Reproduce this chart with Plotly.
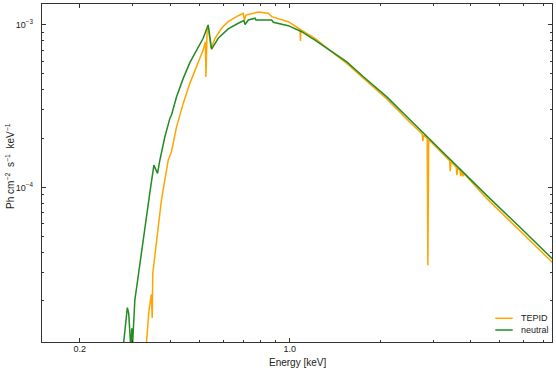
import math
import plotly.graph_objects as go

# ---------------- data ----------------
series_names = ["TEPID", "neutral"]
series_colors = ["#FFA500", "#228B22"]

tepid_energy = [0.330, 0.340, 0.346, 0.3485, 0.350, 0.360, 0.374, 0.394, 0.404, 0.420,
                0.442, 0.465, 0.490, 0.515, 0.524, 0.526, 0.531, 0.536, 0.547, 0.564,
                0.593, 0.624, 0.674, 0.700, 0.707, 0.715, 0.728, 0.786, 0.849, 0.871,
                0.989, 1.082, 1.086, 1.089, 1.214, 1.311, 1.549, 1.759, 2.105, 2.518,
                2.761, 2.776, 2.793, 2.869, 2.884, 2.902, 3.409, 3.422, 3.443, 3.584,
                3.603, 3.625, 3.695, 3.710, 3.738, 3.781, 3.804, 4.536, 5.856, 7.659]
tepid_flux = [8.63e-6, 1.75e-5, 2.20e-5, 1.57e-5, 2.96e-5, 4.73e-5, 8.35e-5, 1.47e-4, 1.66e-4, 2.36e-4,
              3.29e-4, 4.37e-4, 5.53e-4, 7.01e-4, 7.86e-4, 4.78e-4, 9.32e-4, 9.65e-4, 7.17e-4, 8.28e-4,
              9.54e-4, 1.048e-3, 1.14e-3, 1.18e-3, 1.073e-3, 1.15e-3, 1.16e-3, 1.20e-3, 1.18e-3, 1.125e-3,
              1.048e-3, 9.41e-4, 7.97e-4, 9.35e-4, 8.26e-4, 7.35e-4, 5.79e-4, 4.68e-4, 3.50e-4, 2.51e-4,
              2.13e-4, 1.93e-4, 2.10e-4, 2.00e-4, 3.32e-5, 1.97e-4, 1.46e-4, 1.26e-4, 1.44e-4, 1.33e-4,
              1.19e-4, 1.31e-4, 1.27e-4, 1.17e-4, 1.25e-4, 1.17e-4, 1.22e-4, 8.53e-5, 5.42e-5, 3.32e-5]

neutral_energy = [0.276, 0.288, 0.291, 0.296, 0.298, 0.2997, 0.305, 0.317, 0.329, 0.342,
                  0.353, 0.363, 0.3695, 0.384, 0.399, 0.404, 0.420, 0.442, 0.465, 0.490,
                  0.515, 0.535, 0.5495, 0.578, 0.624, 0.674, 0.704, 0.710, 0.728, 0.766,
                  0.772, 0.871, 0.882, 0.989, 1.096, 1.214, 1.311, 1.549, 1.759, 2.105,
                  2.518, 2.936, 3.603, 4.536, 5.856, 7.659]
neutral_flux = [8.63e-6, 1.82e-5, 1.68e-5, 9.94e-6, 1.36e-5, 1.07e-5, 2.02e-5, 3.42e-5, 5.72e-5, 9.18e-5,
                1.372e-4, 1.22e-4, 1.47e-4, 2.05e-4, 2.66e-4, 2.79e-4, 3.61e-4, 4.69e-4, 5.86e-4, 7.01e-4,
                8.28e-4, 1.0e-3, 7.11e-4, 8.28e-4, 9.45e-4, 1.024e-3, 1.063e-3, 1.007e-3, 1.073e-3, 1.10e-3,
                1.073e-3, 1.073e-3, 1.039e-3, 9.90e-4, 9.09e-4, 8.08e-4, 7.35e-4, 5.92e-4, 4.80e-4, 3.61e-4,
                2.60e-4, 1.96e-4, 1.34e-4, 8.90e-5, 5.67e-5, 3.49e-5]

x_tick_values = [0.2, 1.0]
x_tick_labels = ["0.2", "1.0"]
x_minor_values = [0.3, 0.4, 0.5, 0.6, 0.7, 0.8, 0.9, 2, 3, 4, 5, 6, 7]
y_tick_values = [1e-4, 1e-3]
y_tick_labels = ["10<sup>\u22124</sup>", "10<sup>\u22123</sup>"]
y_minor_values = [2e-5, 3e-5, 4e-5, 5e-5, 6e-5, 7e-5, 8e-5, 9e-5,
                  2e-4, 3e-4, 4e-4, 5e-4, 6e-4, 7e-4, 8e-4, 9e-4]
x_limits = [0.1497, 7.47]
y_limits = [1.118e-5, 1.346e-3]

x_title = "Energy [keV]"
y_title = "Ph cm<sup>\u22122</sup>  s<sup>\u22121</sup>  keV<sup>\u22121</sup>"

# ---------------- figure ----------------
W, H = 556, 371
ML, MR, MT, MB = 42, 4, 4, 29
FONT = "Liberation Sans, Arial, Helvetica, sans-serif"
AXC = "#333333"

fig = go.Figure()
for name, color, ex, fy in [(series_names[0], series_colors[0], tepid_energy, tepid_flux),
                            (series_names[1], series_colors[1], neutral_energy, neutral_flux)]:
    fig.add_trace(go.Scatter(x=ex, y=fy, mode="lines", name=name,
                             line=dict(color=color, width=1.5), showlegend=False))

common = dict(type="log", showgrid=False, zeroline=False, showline=True,
              linecolor=AXC, linewidth=1.2, mirror="allticks",
              ticks="inside", ticklen=4, tickwidth=1, tickcolor=AXC,
              tickmode="array", tickfont=dict(family=FONT, size=9, color="#222"))

fig.update_xaxes(**common, range=[math.log10(x_limits[0]), math.log10(x_limits[1])],
                 tickvals=x_tick_values, ticktext=x_tick_labels,
                 minor=dict(tickmode="array", tickvals=x_minor_values, ticks="inside",
                            ticklen=2, tickwidth=1, tickcolor=AXC),
                 ticklabelstandoff=-2)
fig.update_yaxes(**common, range=[math.log10(y_limits[0]), math.log10(y_limits[1])],
                 tickvals=y_tick_values, ticktext=y_tick_labels,
                 minor=dict(tickmode="array", tickvals=y_minor_values, ticks="inside",
                            ticklen=2, tickwidth=1, tickcolor=AXC),
                 ticklabelstandoff=6)

pw = W - ML - MR
ph = H - MT - MB
def px_x(p):
    return (p - ML) / pw
def px_y(p):
    return (H - MB - p) / ph

annotations = [
    dict(text=x_title, x=0.5, y=px_y(362), xref="paper", yref="paper",
         showarrow=False, xanchor="center", yanchor="middle",
         font=dict(family=FONT, size=10, color="#222")),
    dict(text=y_title, x=px_x(10), y=px_y(166), xref="paper", yref="paper",
         showarrow=False, xanchor="center", yanchor="middle", textangle=-90,
         font=dict(family=FONT, size=10, color="#222")),
]
shapes = []
for i, (name, color) in enumerate(zip(series_names, series_colors)):
    yy = [318.3, 330.0][i]
    shapes.append(dict(type="line", xref="paper", yref="paper",
                       x0=px_x(495.3), x1=px_x(512.7), y0=px_y(yy), y1=px_y(yy),
                       line=dict(color=color, width=1.5)))
    annotations.append(dict(text=name, x=px_x(518.5), y=px_y(yy), xref="paper", yref="paper",
                            showarrow=False, xanchor="left", yanchor="middle",
                            font=dict(family=FONT, size=9, color="#222")))

fig.update_layout(width=W, height=H, margin=dict(l=ML, r=MR, t=MT, b=MB),
                  paper_bgcolor="white", plot_bgcolor="white",
                  annotations=annotations, shapes=shapes, showlegend=False)

fig.write_html("out.html", config={"displayModeBar": False, "staticPlot": True},
               post_script="document.body.style.margin='0px';document.body.style.padding='0px';document.body.style.overflow='hidden';")
